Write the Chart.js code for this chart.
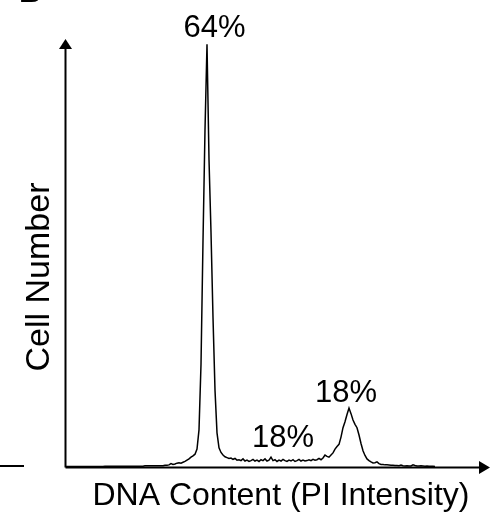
<!DOCTYPE html>
<html>
<head>
<meta charset="utf-8">
<script src="https://cdn.jsdelivr.net/npm/chart.js@4.4.1/dist/chart.umd.min.js"></script>
<style>
  html, body { margin: 0; padding: 0; background: #fff; }
  #wrap { width: 494px; height: 519px; }
</style>
</head>
<body>
<div id="wrap"><canvas id="c" width="494" height="519"></canvas></div>
<script>
// Histogram counts per channel (relative scale 0-100)
const counts = [
  0.1,0.1,0.1,0.1,0.1,0.1,0.1,0.1,0.1,0.1,
  0.1,0.1,0.1,0.1,0.1,0.1,0.1,0.1,0.1,0.1,
  0.2,0.2,0.2,0.2,0.2,0.2,0.2,0.2,0.2,0.2,
  0.2,0.2,0.2,0.2,0.2,0.2,0.2,0.2,0.2,0.2,
  0.3,0.3,0.3,0.3,0.3,0.3,0.3,0.3,0.3,0.3,
  0.4,0.4,0.5,0.8,0.6,0.7,0.9,1.0,0.9,1.1,
  1.3,1.6,1.9,2.3,2.6,3.0,4.2,8.7,24,53,
  79,99,72,55,35,18,8,4.5,3.4,2.8,
  2.4,2.2,2.0,2.1,1.8,2.0,1.6,1.7,1.5,1.9,
  1.4,1.6,1.3,1.5,1.8,1.4,1.6,1.3,1.7,1.5,
  1.9,1.4,1.6,2.3,1.5,1.7,1.3,1.6,1.4,1.8,
  1.5,1.3,1.6,1.4,1.7,1.3,1.5,1.8,1.4,1.6,
  1.4,1.5,1.7,1.5,1.8,1.6,1.7,2.0,1.7,2.1,
  2.8,2.5,2.3,2.8,3.3,4.2,4.8,5.3,7.0,9.2,
  10.6,12.3,13.8,12.5,11.0,10.0,9.2,7.5,5.5,3.8,
  2.7,1.9,1.5,1.2,0.95,1.0,1.2,0.8,0.6,0.6,
  0.5,0.5,0.45,0.4,0.4,0.35,0.35,0.3,0.45,0.3,
  0.25,0.3,0.25,0.25,0.5,0.35,0.25,0.25,0.3,0.25,
  0.2,0.25,0.2,0.2,0.15,0.1
];
const channels = counts.map((_, i) => i);

// Phase percentages (G1, S, G2/M)
const phaseLabels = ['64%', '18%', '18%'];
const phaseChannels = [74.75, 109, 140.5];
const phaseHeights = [100.7, 4.7, 15.2];

const xTitle = 'DNA Content (PI Intensity)';
const yTitle = 'Cell Number';

const FONT = '"Liberation Sans", Arial, Helvetica, sans-serif';

const decor = {
  id: 'decor',
  afterDraw(chart) {
    const ctx = chart.ctx;
    const a = chart.chartArea;
    const xs = chart.scales.x, ys = chart.scales.y;
    ctx.save();
    ctx.fillStyle = '#000';
    ctx.strokeStyle = '#000';
    // axes
    ctx.lineWidth = 2;
    const ax = a.left + 0.5;
    const ay = a.bottom + 0.5;
    ctx.beginPath();
    ctx.moveTo(ax, ay);
    ctx.lineTo(ax, a.top + 8);
    ctx.moveTo(ax, ay);
    ctx.lineTo(a.right - 8, ay);
    ctx.stroke();
    // arrow heads
    ctx.beginPath();
    ctx.moveTo(ax, a.top - 1);
    ctx.lineTo(ax - 6.5, a.top + 9);
    ctx.lineTo(ax + 6.5, a.top + 9);
    ctx.closePath();
    ctx.fill();
    ctx.beginPath();
    ctx.moveTo(a.right, ay);
    ctx.lineTo(a.right - 11, ay - 6.5);
    ctx.lineTo(a.right - 11, ay + 6.5);
    ctx.closePath();
    ctx.fill();
    // fragment of neighbouring panel
    ctx.beginPath();
    ctx.moveTo(0, 466);
    ctx.lineTo(24, 466);
    ctx.stroke();
    ctx.font = 'bold 31px ' + FONT;
    ctx.textAlign = 'left';
    ctx.textBaseline = 'alphabetic';
    ctx.fillText('B', 19, 2);
    // phase labels
    ctx.font = '31px ' + FONT;
    ctx.textAlign = 'center';
    for (let i = 0; i < phaseLabels.length; i++) {
      ctx.fillText(phaseLabels[i], xs.getPixelForValue(phaseChannels[i]), ys.getPixelForValue(phaseHeights[i]));
    }
    // axis titles
    ctx.font = '32px ' + FONT;
    ctx.fillText(xTitle, 281, 505);
    ctx.save();
    ctx.font = '34px ' + FONT;
    ctx.translate(49, 277);
    ctx.rotate(-Math.PI / 2);
    ctx.fillText(yTitle, 0, 0);
    ctx.restore();
    ctx.restore();
  }
};

new Chart(document.getElementById('c'), {
  type: 'line',
  data: {
    datasets: [{
      data: counts.map((v, i) => ({ x: channels[i], y: v })),
      borderColor: '#000',
      borderWidth: 1.5,
      pointRadius: 0,
      tension: 0,
      fill: false
    }]
  },
  options: {
    responsive: false,
    animation: false,
    devicePixelRatio: 1,
    layout: { padding: { left: 65, right: 4, top: 40, bottom: 52 } },
    plugins: { legend: { display: false }, tooltip: { enabled: false } },
    scales: {
      x: { type: 'linear', min: 0, max: 212.5, display: false },
      y: { min: 0, max: 100, display: false }
    }
  },
  plugins: [decor]
});
</script>
</body>
</html>
